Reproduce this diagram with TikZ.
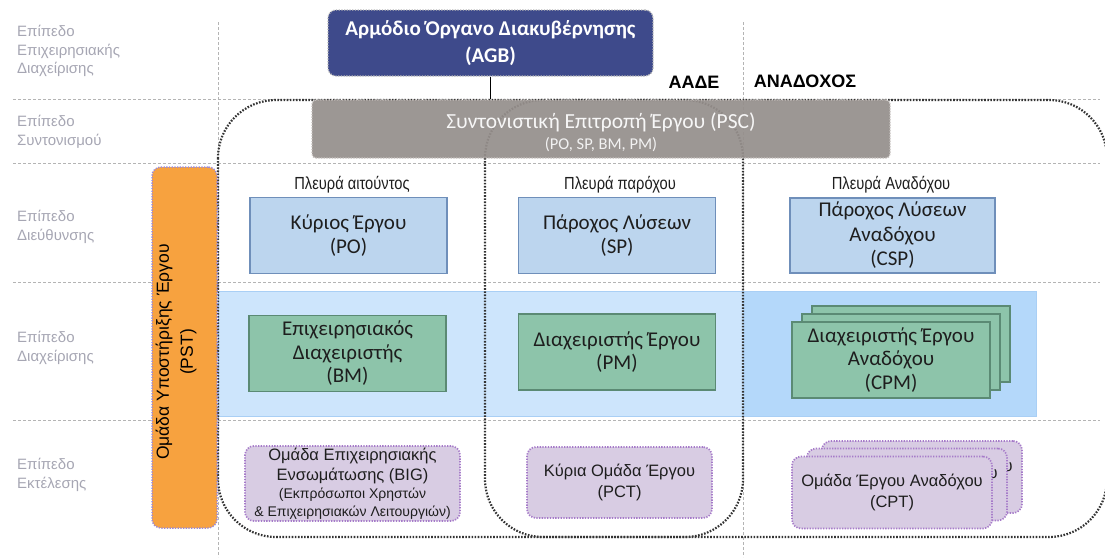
\documentclass[tikz,border=0pt]{standalone}
\usepackage{fontspec}
\setmainfont{Carlito}
\newfontfamily\arialf{Liberation Sans}
\newfontfamily\narrowf[FakeStretch=0.84]{Liberation Sans}

\definecolor{agbfill}{HTML}{3E4A8B}
\definecolor{pscfill}{HTML}{958F8C}
\definecolor{pscedge}{HTML}{C4BFBC}
\definecolor{pstfill}{HTML}{F7A23F}
\definecolor{pstedge}{HTML}{9A8AD8}
\definecolor{bluefill}{HTML}{BCD5EE}
\definecolor{blueedge}{HTML}{6F8FBA}
\definecolor{bandleft}{HTML}{CDE5FC}
\definecolor{bandright}{HTML}{B4D8FA}
\definecolor{bandedge}{HTML}{A9CFF5}
\definecolor{greenfill}{HTML}{8DC4AA}
\definecolor{greenedge}{HTML}{5B8A74}
\definecolor{purplefill}{HTML}{D8CCE3}
\definecolor{purpleedge}{HTML}{A67BC9}
\definecolor{levelgray}{HTML}{A6A6B3}
\definecolor{gridgray}{HTML}{B4B4B4}
\definecolor{dotgray}{HTML}{333333}
\definecolor{inktext}{HTML}{1E1E1E}

\begin{document}
\begin{tikzpicture}[x=1pt,y=-1pt,
  gridline/.style={draw=gridgray, line width=0.8pt, dash pattern=on 3pt off 2pt},
  levellabel/.style={font=\arialf\fontsize{15}{18.5}\selectfont, text=levelgray,
    align=left, anchor=west, inner sep=0pt},
  frameline/.style={draw=dotgray, line width=2.2pt,
    dash pattern=on 1.6pt off 1.5pt, rounded corners=58pt},
  dotedge/.style={line width=1.7pt, dash pattern=on 1.3pt off 1.4pt},
  sidehead/.style={font=\narrowf\fontsize{17.5}{20}\selectfont, text=inktext, inner sep=0pt},
  bluebox/.style={draw=blueedge, fill=bluefill, line width=1.5pt, inner sep=0pt,
    align=center, text=inktext, font=\fontsize{21}{23.5}\selectfont},
  greenbox/.style={draw=greenedge, fill=greenfill, line width=1.5pt, inner sep=0pt,
    align=center, text=inktext, font=\fontsize{21}{23.5}\selectfont},
  purplebox/.style={draw=purpleedge, fill=purplefill, dotedge, rounded corners=9pt,
    inner sep=0pt, align=center, text=inktext, font=\arialf\fontsize{16.5}{21}\selectfont},
  sidetitle/.style={font=\arialf\bfseries\fontsize{18}{20}\selectfont, text=black, inner sep=0pt}
]
\useasboundingbox (0,0) rectangle (1105,557);

% level separators
\draw[gridline] (13,99.5) -- (1100,99.5);
\draw[gridline] (13,163) -- (1100,163);
\draw[gridline] (13,282) -- (1100,282);
\draw[gridline] (13,420) -- (1100,420);
\draw[gridline] (218,22) -- (218,557);
\draw[gridline] (743,22) -- (743,557);

% level names
\node[levellabel] (lv1) at (17,51) {Επίπεδο\\Επιχειρησιακής\\Διαχείρισης};
\node[levellabel] (lv2) at (17,132) {Επίπεδο\\Συντονισμού};
\node[levellabel] (lv3) at (17,227) {Επίπεδο\\Διεύθυνσης};
\node[levellabel] (lv4) at (17,348) {Επίπεδο\\Διαχείρισης};
\node[levellabel] (lv5) at (17,475) {Επίπεδο\\Εκτέλεσης};

% management band
\fill[bandleft] (218,291) rectangle (743,416);
\fill[bandright] (743,291) rectangle (1036,416);
\draw[bandedge, line width=0.8pt] (218,291) rectangle (1036,416);

% dotted groupings
\draw[frameline] (485,100) rectangle (743,537);
\draw[frameline] (218,100) rectangle (1107,537);

% side headings
\node[sidetitle] (aade) at (694,82) {ΑΑΔΕ};
\node[sidetitle] (anadoxos) at (805,81) {ΑΝΑΔΟΧΟΣ};
\node[sidehead] (h1) at (352,185) {Πλευρά αιτούντος};
\node[sidehead] (h2) at (620,185) {Πλευρά παρόχου};
\node[sidehead] (h3) at (891,185) {Πλευρά Αναδόχου};

% direction level
\node[bluebox, minimum width=197pt, minimum height=76pt] (po) at (348.5,235.5) {Κύριος Έργου\\(PO)};
\node[bluebox, minimum width=197pt, minimum height=76pt] (sp) at (617,235.5) {Πάροχος Λύσεων\\(SP)};
\node[bluebox, minimum width=205pt, minimum height=75pt, font=\fontsize{21}{24.5}\selectfont] (csp) at (892.5,235.5) {Πάροχος Λύσεων\\Αναδόχου\\(CSP)};

% management level
\node[greenbox, minimum width=197pt, minimum height=76pt] (bm) at (347.5,353.5) {Επιχειρησιακός\\Διαχειριστής\\(BM)};
\node[greenbox, minimum width=197pt, minimum height=76pt] (pm) at (617,352) {Διαχειριστής Έργου\\(PM)};
\node[greenbox, minimum width=198pt, minimum height=76pt] (cpm3) at (911,344) {};
\node[greenbox, minimum width=198pt, minimum height=76pt] (cpm2) at (901,352) {};
\node[greenbox, minimum width=198pt, minimum height=76pt] (cpm) at (891,360) {Διαχειριστής Έργου\\Αναδόχου\\(CPM)};

% execution level
\node[purplebox, minimum width=215pt, minimum height=75pt] (big) at (352.5,483.5)
  {Ομάδα Επιχειρησιακής\\[-1pt]Ενσωμάτωσης (BIG)\\[-3pt]
   {\fontsize{14}{16}\selectfont (Εκπρόσωποι Χρηστών}\\[-3pt]
   {\fontsize{14}{16}\selectfont \& Επιχειρησιακών Λειτουργιών)}};
\node[purplebox, minimum width=185pt, minimum height=71pt] (pct) at (619.5,482.5) {Κύρια Ομάδα Έργου\\(PCT)};
\node[purplebox, minimum width=200pt, minimum height=72pt] (cpt3) at (922,477) {Ομάδα Έργου Αναδόχου\\(CPT)};
\node[purplebox, minimum width=200pt, minimum height=72pt] (cpt2) at (907,484.5) {Ομάδα Έργου Αναδόχου\\(CPT)};
\node[purplebox, minimum width=200pt, minimum height=72pt] (cpt) at (892,492.5) {Ομάδα Έργου Αναδόχου\\(CPT)};

% project support team
\node[draw=pstedge, fill=pstfill, dotedge, line width=1.5pt,
  rounded corners=9pt, minimum width=65pt, minimum height=361pt, inner sep=0pt] (pst) at (184.5,347.5) {};
\node[rotate=90, align=center, text=black, inner sep=0pt,
  font=\arialf\fontsize{17.5}{24}\selectfont] (psttext) at (176,352) {Ομάδα Υποστήριξης Έργου\\(PST)};

% coordination and governance
\node[fill=pscfill, fill opacity=0.93, draw=pscedge, dotedge, line width=1.3pt,
  rounded corners=4pt, minimum width=578pt, minimum height=58pt, inner sep=0pt] (psc) at (601,129) {};
\node[text=white!94!gray, font=\fontsize{21.5}{24}\selectfont, inner sep=0pt] (psct) at (601,122) {Συντονιστική Επιτροπή Έργου (PSC)};
\node[text=white!90!gray, font=\fontsize{16.5}{18}\selectfont, inner sep=0pt] (pscs) at (601,145) {(PO, SP, BM, PM)};

\node[fill=agbfill, draw=gray!55, dotedge, line width=1.3pt,
  rounded corners=8pt, minimum width=325pt, minimum height=66pt, inner sep=0pt,
  align=center, text=white, font=\bfseries\fontsize{21}{27}\selectfont] (agb) at (490.5,43)
  {Αρμόδιο Όργανο Διακυβέρνησης\\(AGB)};

\draw[black, line width=1pt] (agb.south) -- (agb.south |- psc.north);
\end{tikzpicture}
\end{document}
